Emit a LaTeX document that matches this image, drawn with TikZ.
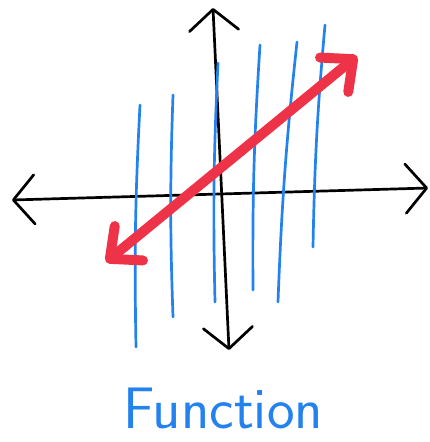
\documentclass[tikz,border=0pt]{standalone}
\usepackage{tikz}
\usetikzlibrary{arrows.meta}
\definecolor{fnblue}{RGB}{35,130,238}
\definecolor{fnred}{RGB}{238,50,72}
\tikzset{
    % black axes with open barbs
    axisline/.style={
        line width=2.3pt,
        black,
        line cap=round,
        line join=round,
        <->,
        >={Straight Barb[length=18pt, width=42pt, round]}
    },
    % blue vertical lines
    vline/.style={
        line width=2.3pt,
        fnblue,
        line cap=round
    },
    % thick red line with two heads
    redarrow/.style={
        line width=8.5pt,
        fnred,
        line cap=round,
        line join=round,
        <->,
        >={Straight Barb[length=21pt, width=38pt, round]}
    }
}

\begin{document}
\begin{tikzpicture}[x=0.03cm,y=-0.03cm]
    \useasboundingbox (0,0) rectangle (430,442);

    % axes
    \path
    (12,200) coordinate (xl)
    (428,188) coordinate (xr)
    (213,8) coordinate (yt)
    (229,350) coordinate (yb);
    \draw[axisline] (xl) to (xr);
    \draw[axisline] (yt) to (yb);

    % vertical lines
    \foreach \xt/\yt/\xb/\yb in {140/105/136/347, 173/95/173/317, 218/63/215/302,
                                 260/45/253/290, 297/42/278/302, 325/25/313/247}{
        \draw[vline] (\xt,\yt) to[bend right=2] (\xb,\yb);
    }

    % red line
    \path
    (106,262) coordinate (lo)
    (357,56) coordinate (hi);
    \draw[redarrow] (lo) to (hi);

    % label
    \node[fnblue, anchor=base, font=\sffamily\fontsize{50}{54}\selectfont] (title) at (223,428) {Function};
\end{tikzpicture}
\end{document}
